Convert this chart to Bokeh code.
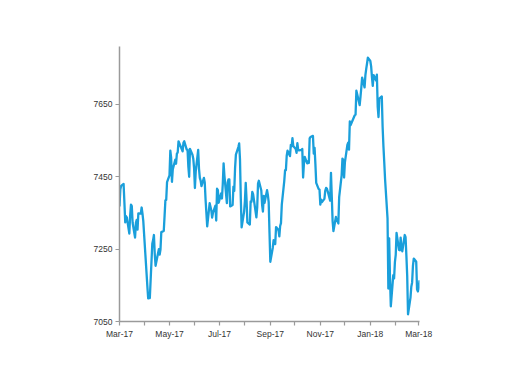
import pandas as pd
from bokeh.plotting import figure
from bokeh.models import FixedTicker, DatetimeTickFormatter, Range1d
from bokeh.embed import file_html
from bokeh.resources import INLINE

# FTSE-like daily closes, mid-March 2017 to mid-March 2018
dates = [
    "2017-03-15","2017-03-16","2017-03-17","2017-03-20","2017-03-21","2017-03-22","2017-03-23","2017-03-24","2017-03-27","2017-03-28","2017-03-29","2017-03-30","2017-03-31",
    "2017-04-03","2017-04-04","2017-04-05","2017-04-06","2017-04-07","2017-04-10","2017-04-11","2017-04-12","2017-04-13","2017-04-18","2017-04-19","2017-04-20","2017-04-21","2017-04-24","2017-04-25","2017-04-26","2017-04-27","2017-04-28",
    "2017-05-02","2017-05-03","2017-05-04","2017-05-05","2017-05-08","2017-05-09","2017-05-10","2017-05-11","2017-05-12","2017-05-15","2017-05-16","2017-05-17","2017-05-18","2017-05-19","2017-05-22","2017-05-23","2017-05-24","2017-05-25","2017-05-26","2017-05-30","2017-05-31",
    "2017-06-01","2017-06-02","2017-06-05","2017-06-06","2017-06-07","2017-06-08","2017-06-09","2017-06-12","2017-06-13","2017-06-14","2017-06-15","2017-06-16","2017-06-19","2017-06-20","2017-06-21","2017-06-22","2017-06-23","2017-06-26","2017-06-27","2017-06-28","2017-06-29","2017-06-30",
    "2017-07-03","2017-07-04","2017-07-05","2017-07-06","2017-07-07","2017-07-10","2017-07-11","2017-07-12","2017-07-13","2017-07-14","2017-07-17","2017-07-18","2017-07-19","2017-07-20","2017-07-21","2017-07-24","2017-07-25","2017-07-26","2017-07-27","2017-07-28","2017-07-31",
    "2017-08-01","2017-08-02","2017-08-03","2017-08-04","2017-08-07","2017-08-08","2017-08-09","2017-08-10","2017-08-11","2017-08-14","2017-08-15","2017-08-16","2017-08-17","2017-08-18","2017-08-21","2017-08-22","2017-08-23","2017-08-24","2017-08-25","2017-08-29","2017-08-30","2017-08-31",
    "2017-09-01","2017-09-04","2017-09-05","2017-09-06","2017-09-07","2017-09-08","2017-09-11","2017-09-12","2017-09-13","2017-09-14","2017-09-15","2017-09-18","2017-09-19","2017-09-20","2017-09-21","2017-09-22","2017-09-25","2017-09-26","2017-09-27","2017-09-28","2017-09-29",
    "2017-10-02","2017-10-03","2017-10-04","2017-10-05","2017-10-06","2017-10-09","2017-10-10","2017-10-11","2017-10-12","2017-10-13","2017-10-16","2017-10-17","2017-10-18","2017-10-19","2017-10-20","2017-10-23","2017-10-24","2017-10-25","2017-10-26","2017-10-27","2017-10-30","2017-10-31",
    "2017-11-01","2017-11-02","2017-11-03","2017-11-06","2017-11-07","2017-11-08","2017-11-09","2017-11-10","2017-11-13","2017-11-14","2017-11-15","2017-11-16","2017-11-17","2017-11-20","2017-11-21","2017-11-22","2017-11-23","2017-11-24","2017-11-27","2017-11-28","2017-11-29","2017-11-30",
    "2017-12-01","2017-12-04","2017-12-05","2017-12-06","2017-12-07","2017-12-08","2017-12-11","2017-12-12","2017-12-13","2017-12-14","2017-12-15","2017-12-18","2017-12-19","2017-12-20","2017-12-21","2017-12-22","2017-12-27","2017-12-28","2017-12-29",
    "2018-01-02","2018-01-03","2018-01-04","2018-01-05","2018-01-08","2018-01-09","2018-01-10","2018-01-11","2018-01-12","2018-01-15","2018-01-16","2018-01-17","2018-01-18","2018-01-19","2018-01-22","2018-01-23","2018-01-24","2018-01-25","2018-01-26","2018-01-29","2018-01-30","2018-01-31",
    "2018-02-01","2018-02-02","2018-02-05","2018-02-06","2018-02-07","2018-02-08","2018-02-09","2018-02-12","2018-02-13","2018-02-14","2018-02-15","2018-02-16","2018-02-19","2018-02-20","2018-02-21","2018-02-22","2018-02-23","2018-02-26","2018-02-27","2018-02-28",
    "2018-03-01","2018-03-02","2018-03-05","2018-03-06","2018-03-07","2018-03-08","2018-03-09","2018-03-12","2018-03-13","2018-03-14","2018-03-15","2018-03-16",
]
closes = [
    7368,7415,7425,7430,7378,7324,7341,7337,7293,7343,7373,7369,7323,
    7282,7322,7331,7304,7349,7348,7365,7349,7328,7147,7114,7118,7115,7265,7275,7289,7237,7204,
    7250,7235,7249,7297,7300,7342,7385,7386,7435,7454,7522,7503,7436,7470,7497,7486,7514,7517,7548,7526,7520,
    7544,7548,7525,7525,7478,7450,7527,7511,7500,7474,7419,7464,7524,7472,7447,7439,7424,7447,7434,7387,7350,7313,
    7377,7367,7357,7337,7350,7370,7329,7417,7413,7378,7404,7390,7430,7487,7453,7377,7434,7443,7443,7368,7372,
    7423,7411,7474,7511,7532,7542,7498,7389,7310,7353,7383,7433,7387,7324,7318,7382,7381,7408,7402,7338,7365,7431,
    7439,7412,7372,7354,7397,7378,7413,7400,7380,7296,7215,7254,7275,7272,7264,7311,7302,7285,7314,7322,7373,
    7438,7468,7468,7508,7522,7507,7538,7534,7557,7535,7527,7516,7543,7524,7523,7524,7527,7448,7486,7505,7487,7493,
    7488,7556,7560,7563,7514,7530,7485,7433,7416,7415,7373,7387,7380,7389,7411,7419,7417,7410,7384,7461,7394,7327,
    7300,7339,7328,7327,7321,7394,7454,7500,7496,7448,7490,7538,7544,7525,7603,7593,7620,7622,7688,
    7648,7671,7696,7724,7697,7731,7748,7763,7779,7770,7755,7725,7701,7731,7716,7732,7644,7615,7666,7672,7588,7534,
    7490,7443,7335,7141,7280,7171,7092,7178,7169,7214,7234,7295,7248,7247,7282,7252,7244,7289,7283,7232,
    7176,7070,7116,7146,7158,7204,7224,7215,7139,7133,7140,7164,
]
y_ticks = [7050, 7250, 7450, 7650]
month_ticks = ["2017-03-15","2017-04-15","2017-05-15","2017-06-15","2017-07-15","2017-08-15","2017-09-15",
               "2017-10-15","2017-11-15","2017-12-15","2018-01-15","2018-02-15","2018-03-15"]

x = pd.to_datetime(dates)
def ms(s):
    return pd.Timestamp(s).value / 1e6

all_ticks = [ms(s) for s in month_ticks]
major = all_ticks[::2]
minor = all_ticks[1::2]

p = figure(width=500, height=372, x_axis_type="datetime",
           output_backend="svg", toolbar_location=None,
           x_range=Range1d(ms("2017-03-15"), ms("2018-03-16")),
           y_range=Range1d(7050, 7810),
           min_border_left=119, min_border_right=81,
           min_border_top=46, min_border_bottom=51)

p.line(x, closes, line_color="#1a9fdb", line_width=2.3, line_join="round")

p.xgrid.grid_line_color = None
p.ygrid.grid_line_color = None
p.outline_line_color = None
p.background_fill_color = "white"
p.border_fill_color = "white"

p.xaxis.ticker = FixedTicker(ticks=major, minor_ticks=minor)
fmt = "%b-%y"
p.xaxis.formatter = DatetimeTickFormatter(days=fmt, months=fmt, years=fmt, hours=fmt,
                                          minutes=fmt, seconds=fmt, milliseconds=fmt,
                                          microseconds=fmt, minsec=fmt, hourmin=fmt)
p.yaxis.ticker = FixedTicker(ticks=y_ticks, minor_ticks=[])

for ax in (p.xaxis, p.yaxis):
    ax.axis_line_color = "#9a9a9a"
    ax.axis_line_width = 1.5
    ax.major_tick_line_color = "#9a9a9a"
    ax.minor_tick_line_color = "#9a9a9a"
    ax.major_tick_line_width = 1.2
    ax.minor_tick_line_width = 1.2
    ax.major_tick_in = 0
    ax.major_tick_out = 4
    ax.minor_tick_in = 0
    ax.minor_tick_out = 4
    ax.major_label_text_font = "Liberation Sans"
    ax.major_label_text_font_size = "8.5px"
    ax.major_label_text_color = "#333333"
    ax.major_label_standoff = 3

open("out.html", "w").write(file_html(p, INLINE))
